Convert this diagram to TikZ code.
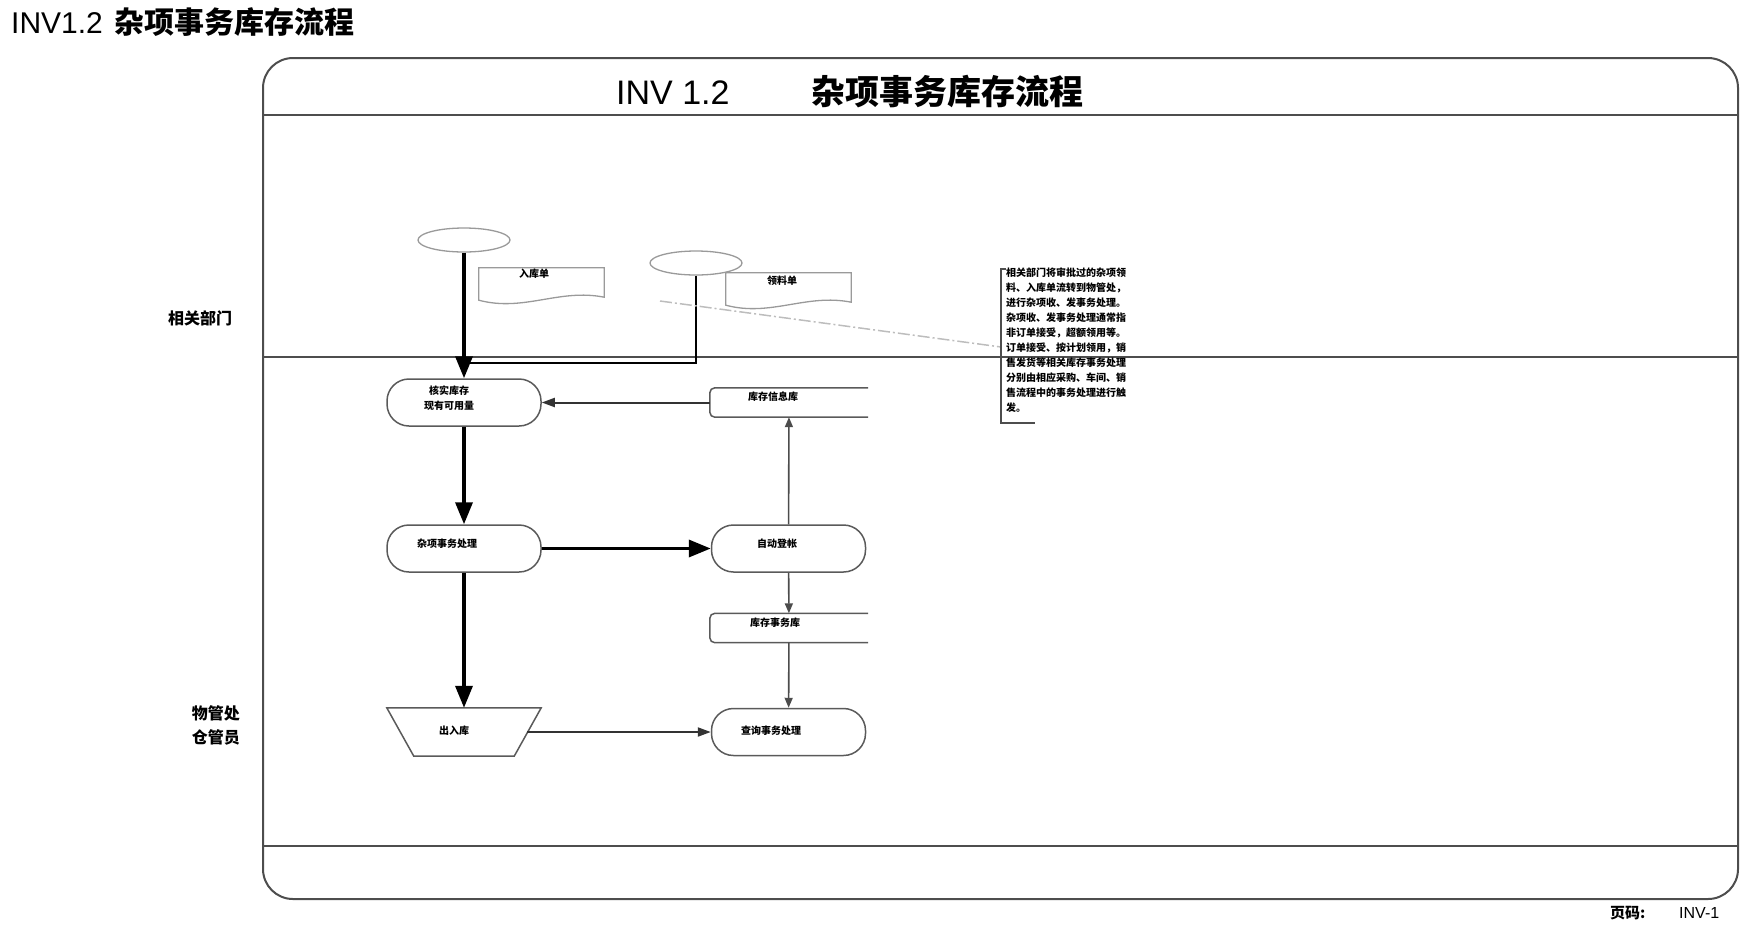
\documentclass[tikz,border=0pt]{standalone}
\usepackage{fontspec}
\setmainfont{Liberation Sans}
\newfontfamily\cjk{Noto Sans CJK SC}
\usetikzlibrary{arrows.meta,calc,shapes.geometric}
\definecolor{framegray}{HTML}{4D4D4D}
\definecolor{shapegray}{HTML}{5A5A5A}
\definecolor{docgray}{HTML}{9A9A9A}
\definecolor{dashgray}{HTML}{BDBDBD}
\tikzset{
  cn/.style={font=\cjk\bfseries\fontsize{10}{15}\selectfont, inner sep=0pt, align=center},
  frameline/.style={draw=framegray, line width=2pt},
  term/.style={draw=shapegray, line width=1.5pt, rounded corners=22pt,
    minimum width=154pt, minimum height=47pt, inner sep=0pt},
  iobox/.style={minimum width=154pt, minimum height=48pt, inner sep=0pt},
  ioline/.style={draw=shapegray, line width=1.5pt},
  store/.style={minimum width=158pt, minimum height=29pt, inner sep=0pt},
  storeline/.style={draw=shapegray, line width=1.5pt, rounded corners=5pt},
  docsheet/.style={minimum width=125pt, minimum height=32pt, inner sep=0pt},
  docline/.style={draw=docgray, line width=1.3pt},
  source/.style={ellipse, draw=docgray, line width=1.3pt, minimum width=92pt,
    minimum height=24pt, inner sep=0pt},
  bigflow/.style={line width=3.5pt, -{Triangle[length=22pt,width=17pt]}},
  midflow/.style={line width=2pt, draw=black!80, -{Triangle[length=13pt,width=9pt]}},
  smallflow/.style={line width=1.6pt, draw=black!70, -{Triangle[length=10pt,width=8pt]}},
}
% outlines for the sheet, data store and in/out shapes
\newcommand{\docoutline}[1]{\draw[docline] (#1.north west) -- (#1.north east)
  -- ($(#1.south east)+(0,-3)$) .. controls +(-45,-9) and +(45,12) .. (#1.south west) -- cycle;}
\newcommand{\storeoutline}[1]{\draw[storeline] (#1.north east) -| (#1.west) |- (#1.south east);}
\newcommand{\iooutline}[1]{\draw[ioline] (#1.north west) -- (#1.north east)
  -- ($(#1.south east)+(-27,0)$) -- ($(#1.south west)+(27,0)$) -- cycle;}

\begin{document}
\begin{tikzpicture}[x=1pt,y=-1pt]
  %%%%% START %%%%%
  \useasboundingbox (0,0) rectangle (1752,930);

  % heading above the sheet
  \node[anchor=base west, inner sep=0pt, font=\fontsize{30}{34}\selectfont] (heading) at (11,33)
    {INV1.2\hspace{12pt}{\cjk\bfseries 杂项事务库存流程}};

  % sheet frame and bands
  \draw[frameline, rounded corners=30pt] (263,58) rectangle (1738,899);
  \draw[frameline] (263,115) -- (1738,115);
  \draw[frameline] (263,357) -- (1738,357);
  \draw[frameline] (263,846) -- (1738,846);

  \node[anchor=base west, inner sep=0pt, font=\fontsize{34}{40}\selectfont] (titlecode) at (616,104) {INV 1.2};
  \node[anchor=base west, inner sep=0pt, font=\cjk\bfseries\fontsize{34}{40}\selectfont] (titletext) at (811,104) {杂项事务库存流程};

  % lanes
  \node[font=\cjk\bfseries\fontsize{16}{24}\selectfont] (lanedept) at (200,318) {相关部门};
  \node[anchor=east, inner sep=0pt, align=right, font=\cjk\bfseries\fontsize{16}{24}\selectfont] (lanestore) at (240,725) {物管处\\仓管员};

  % page code
  \node[anchor=base west, inner sep=0pt, font=\cjk\bfseries\fontsize{15}{16}\selectfont] (pagelbl) at (1610,918) {页码:};
  \node[anchor=base west, inner sep=0pt, font=\fontsize{16}{18}\selectfont] (pagecode) at (1679,918) {INV-1};

  % related department lane
  \node[source] (srcin) at (464,240) {};
  \node[source] (srcout) at (696,263) {};
  \node[docsheet] (slipin) at (541.5,284) {};
  \node[docsheet] (slipout) at (788.5,289) {};
  \docoutline{slipin}
  \docoutline{slipout}
  \node[cn] (slipintext) at (534,274) {入库单};
  \node[cn] (slipouttext) at (782,281) {领料单};

  % stores lane
  \node[term] (check) at (464,402.5) {};
  \node[term] (misc) at (464,548.5) {};
  \node[iobox] (inout) at (464,732) {};
  \node[term] (post) at (788.5,548.5) {};
  \node[term] (query) at (788.5,732) {};
  \node[store] (onhand) at (789,402.5) {};
  \node[store] (trans) at (789,628) {};
  \iooutline{inout}
  \storeoutline{onhand}
  \storeoutline{trans}

  \node[cn] (checktext) at (449,398.5) {核实库存\\现有可用量};
  \node[cn] (misctext) at (447,543.5) {杂项事务处理};
  \node[cn] (inouttext) at (454,731) {出入库};
  \node[cn] (posttext) at (777,543.5) {自动登帐};
  \node[cn] (querytext) at (771,731) {查询事务处理};
  \node[cn] (onhandtext) at (773,397) {库存信息库};
  \node[cn] (transtext) at (775,623) {库存事务库};

  % connectors
  \coordinate (join) at (464,363);
  \draw[bigflow] (srcin) -- (check);
  \draw[line width=2pt] (srcout.south) |- (join);
  \draw[bigflow] (check) -- (misc);
  \draw[bigflow] (misc) -- (inout);
  \draw[bigflow] (misc) -- (post);
  \draw[midflow] (onhand) -- (check);
  \draw[smallflow] (post) -- (onhand);
  \draw[smallflow] (post) -- (trans);
  \draw[smallflow] (trans) -- (query);
  \draw[midflow] ($(inout.east)+(-14,0)$) -- (query);

  % note
  \coordinate (dashstart) at (660,301);
  \coordinate (notebar) at (1001,347);
  \draw[draw=dashgray, line width=1.5pt, dash pattern=on 12pt off 3pt on 2pt off 3pt] (dashstart) -- (notebar);
  \draw[draw=framegray, line width=2pt] (1006,269) -- (1001,269) -- (1001,423) -- (1035,423);
  \node[anchor=north west, inner sep=0pt, align=left, font=\cjk\bfseries\fontsize{10}{15}\selectfont] (note) at (1006,268)
    {相关部门将审批过的杂项领\\料、入库单流转到物管处，\\进行杂项收、发事务处理。\\杂项收、发事务处理通常指\\非订单接受，超额领用等。\\订单接受、按计划领用，销\\售发货等相关库存事务处理\\分别由相应采购、车间、销\\售流程中的事务处理进行触\\发。};

  %%%%% END %%%%%
\end{tikzpicture}
\end{document}
